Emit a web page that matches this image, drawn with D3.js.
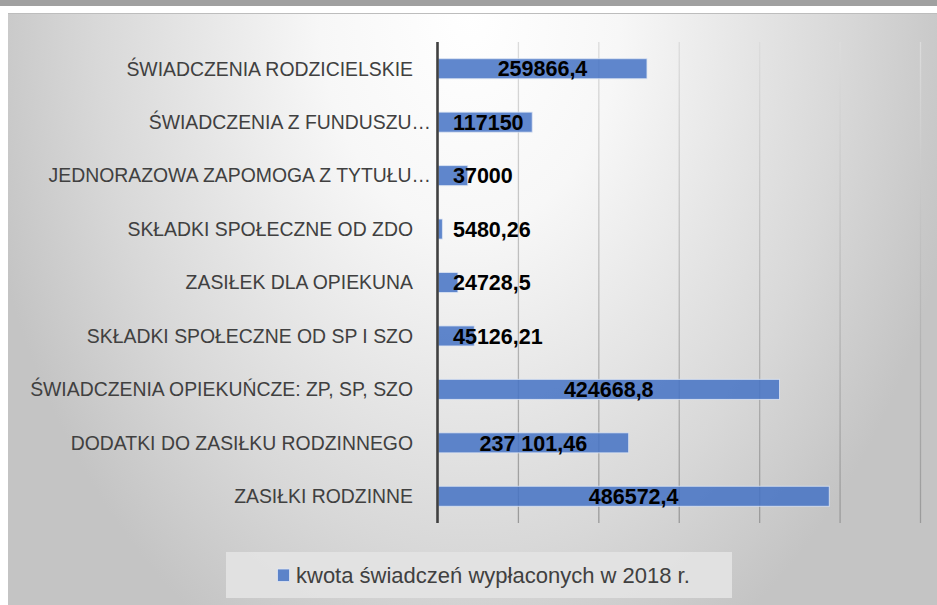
<!DOCTYPE html>
<html>
<head>
<meta charset="utf-8">
<script src="https://cdn.jsdelivr.net/npm/d3@7"></script>
<style>
  html, body { margin: 0; padding: 0; background: #ffffff; }
  svg { display: block; }
</style>
</head>
<body>
<svg id="chart" width="937" height="605"></svg>
<script>
// ---- data ----
const categories = [
  "ŚWIADCZENIA RODZICIELSKIE",
  "ŚWIADCZENIA Z FUNDUSZU…",
  "JEDNORAZOWA ZAPOMOGA Z TYTUŁU…",
  "SKŁADKI SPOŁECZNE OD ZDO",
  "ZASIŁEK DLA OPIEKUNA",
  "SKŁADKI SPOŁECZNE OD SP I SZO",
  "ŚWIADCZENIA OPIEKUŃCZE: ZP, SP, SZO",
  "DODATKI DO ZASIŁKU RODZINNEGO",
  "ZASIŁKI RODZINNE"
];
const values = [259866.4, 117150, 37000, 5480.26, 24728.5, 45126.21, 424668.8, 237101.46, 486572.4];
const valueLabels = ["259866,4", "117150", "37000", "5480,26", "24728,5", "45126,21", "424668,8", "237 101,46", "486572,4"];
const xTicks = [100000, 200000, 300000, 400000, 500000, 600000];
const seriesName = "kwota świadczeń wypłaconych w 2018 r.";

// ---- layout ----
const W = 937, H = 605;
const plot = { left: 438, right: 920.5, top: 42, bottom: 523 };
const svg = d3.select("#chart");
const defs = svg.append("defs");

// background gradient (radial from top centre)
const bg = defs.append("radialGradient")
  .attr("id", "bgGrad")
  .attr("gradientUnits", "userSpaceOnUse")
  .attr("cx", 470).attr("cy", 13).attr("r", 1)
  .attr("gradientTransform", "translate(470,13) scale(500,720) translate(-470,-13)");
bg.append("stop").attr("offset", "0").attr("stop-color", "#ffffff");
bg.append("stop").attr("offset", "0.3").attr("stop-color", "#f7f7f7");
bg.append("stop").attr("offset", "0.75").attr("stop-color", "#d8d8d8");
bg.append("stop").attr("offset", "1").attr("stop-color", "#c4c4c4");

const gridGrad = defs.append("linearGradient")
  .attr("id", "gridGrad")
  .attr("gradientUnits", "userSpaceOnUse")
  .attr("x1", 0).attr("y1", plot.top).attr("x2", 0).attr("y2", plot.bottom);
gridGrad.append("stop").attr("offset", "0").attr("stop-color", "#dcdcdc");
gridGrad.append("stop").attr("offset", "1").attr("stop-color", "#9a9a9a");

// top band
svg.append("rect").attr("x", 0).attr("y", 0).attr("width", W).attr("height", 6).attr("fill", "#a0a0a0");
// chart area
svg.append("rect").attr("x", 8).attr("y", 13).attr("width", W - 8).attr("height", H - 13).attr("fill", "url(#bgGrad)");
svg.append("line").attr("x1", 8).attr("x2", W).attr("y1", 13.5).attr("y2", 13.5)
  .attr("stroke", "#bdbdbd").attr("stroke-width", 1);

// ---- scales ----
const x = d3.scaleLinear().domain([0, 600000]).range([plot.left, plot.right]);
const y = d3.scaleBand().domain(categories).range([plot.top, plot.bottom])
  .paddingInner(0.625).paddingOuter(0.3125);

// gridlines
svg.append("g").selectAll("line").data(xTicks).join("line")
  .attr("x1", d => x(d)).attr("x2", d => x(d))
  .attr("y1", plot.top).attr("y2", plot.bottom)
  .attr("stroke", "url(#gridGrad)").attr("stroke-width", 1.3);

// bars
const data = categories.map((c, i) => ({ c, v: values[i], l: valueLabels[i] }));
svg.append("g").selectAll("rect").data(data).join("rect")
  .attr("x", x(0))
  .attr("y", d => y(d.c))
  .attr("width", d => x(d.v) - x(0))
  .attr("height", y.bandwidth())
  .attr("fill", "#4472C4").attr("fill-opacity", 0.85)
  .attr("stroke", "#dfe6f4").attr("stroke-width", 1).attr("stroke-opacity", 0.8);

// vertical axis line
svg.append("line").attr("x1", x(0) - 0.5).attr("x2", x(0) - 0.5)
  .attr("y1", plot.top).attr("y2", plot.bottom)
  .attr("stroke", "#404040").attr("stroke-width", 2.6);

// category labels (y axis)
const yAxis = d3.axisLeft(y).tickSize(0).tickPadding(0);
const yg = svg.append("g").call(yAxis);
yg.select(".domain").remove();
yg.selectAll(".tick text")
  .attr("x", d => d.endsWith("…") ? 431 : 413)
  .attr("dy", "0.35em")
  .attr("fill", "#404040")
  .style("font-family", "'Liberation Sans', Arial, sans-serif")
  .style("font-size", "19.4px")
  .attr("text-anchor", "end");

// value labels
const vl = svg.append("g").selectAll("text").data(data).join("text")
  .text(d => d.l)
  .attr("y", d => y(d.c) + y.bandwidth() / 2)
  .attr("dy", "0.36em")
  .attr("fill", "#000000")
  .style("font-family", "'Liberation Sans', Arial, sans-serif")
  .style("font-weight", "bold")
  .style("font-size", "21.5px");
vl.each(function(d) {
  const w = this.getComputedTextLength();
  const cx = (x(0) + x(d.v)) / 2;
  const left = Math.max(cx - w / 2, 453);
  d3.select(this).attr("x", left);
});

// legend
const lg = svg.append("g");
lg.append("rect").attr("x", 226).attr("y", 552).attr("width", 506).attr("height", 46)
  .attr("fill", "#e3e3e3").attr("fill-opacity", 0.9);
lg.append("rect").attr("x", 277.5).attr("y", 569).attr("width", 12).attr("height", 12.5)
  .attr("fill", "#4472C4").attr("fill-opacity", 0.85)
  .attr("stroke", "#dfe6f4").attr("stroke-width", 0.8);
lg.append("text").text(seriesName)
  .attr("x", 296).attr("y", 575).attr("dy", "0.36em")
  .attr("fill", "#404040")
  .style("font-family", "'Liberation Sans', Arial, sans-serif")
  .style("font-size", "22px");
</script>
</body>
</html>
